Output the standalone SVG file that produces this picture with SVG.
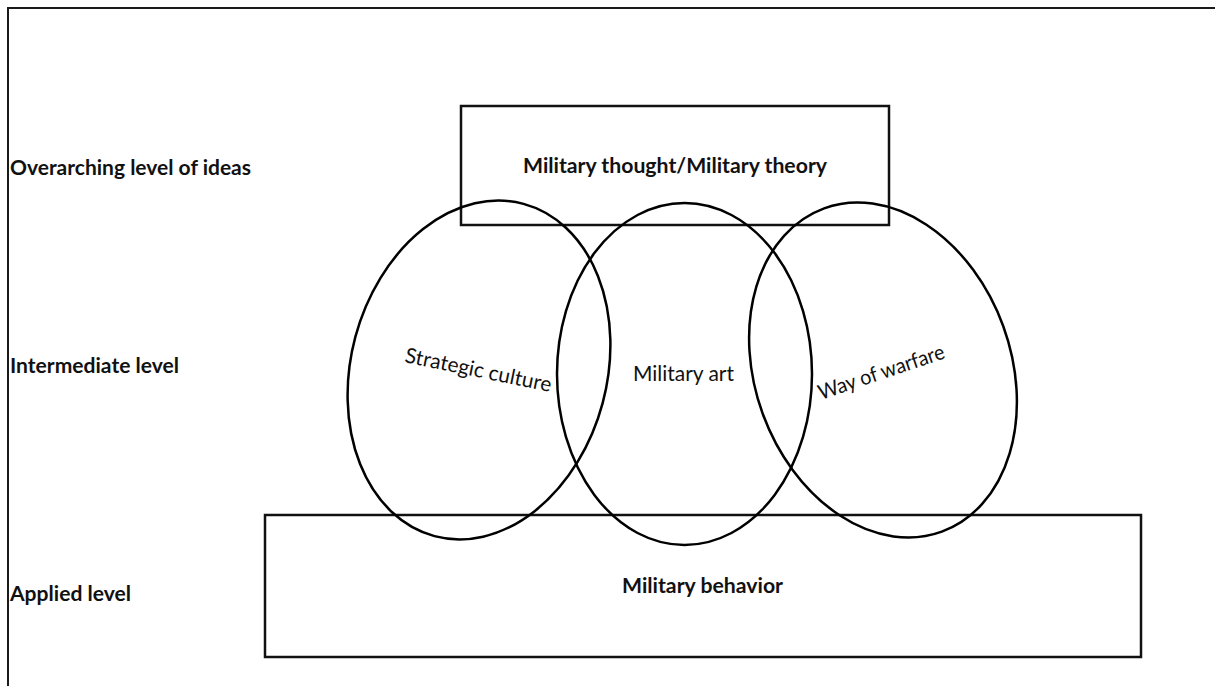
<svg xmlns="http://www.w3.org/2000/svg" width="1215" height="686" viewBox="0 0 1215 686">
<style>
.frame{fill:none;stroke:#1a1a1a;stroke-width:2}
.box{fill:none;stroke:#111;stroke-width:2.5}
.oval{fill:none;stroke:#000;stroke-width:2.5}
.lbl{font-family:Lato,"Open Sans","Liberation Sans",sans-serif;font-size:21px;fill:#111}
.b{font-weight:bold}
</style>
<rect width="1215" height="686" fill="#fff"/>
<g id="frame">
<path class="frame" d="M8,686 V8 H1215"/>
</g>
<g id="level-labels">
<text class="lbl b" x="10" y="175" textLength="241" lengthAdjust="spacingAndGlyphs">Overarching level of ideas</text>
<text class="lbl b" x="10" y="373" textLength="169" lengthAdjust="spacingAndGlyphs">Intermediate level</text>
<text class="lbl b" x="10" y="601" textLength="121" lengthAdjust="spacingAndGlyphs">Applied level</text>
</g>
<g id="military-thought">
<rect class="box" x="461" y="106" width="428" height="119"/>
<text class="lbl b" x="523" y="173" textLength="304" lengthAdjust="spacingAndGlyphs">Military thought/Military theory</text>
</g>
<g id="military-behavior">
<rect class="box" x="265" y="515" width="876" height="142"/>
<text class="lbl b" x="622" y="593" textLength="161" lengthAdjust="spacingAndGlyphs">Military behavior</text>
</g>
<g id="strategic-culture">
<ellipse class="oval" cx="479" cy="370" rx="128" ry="172" transform="rotate(15 479 370)"/>
<text class="lbl" x="404" y="362" textLength="149" lengthAdjust="spacingAndGlyphs" transform="rotate(11.6 404 362)">Strategic culture</text>
</g>
<g id="military-art">
<ellipse class="oval" cx="684.5" cy="374" rx="127.5" ry="171"/>
<text class="lbl" x="633" y="381" textLength="101" lengthAdjust="spacingAndGlyphs">Military art</text>
</g>
<g id="way-of-warfare">
<ellipse class="oval" cx="883" cy="370" rx="128" ry="172" transform="rotate(-20 883 370)"/>
<text class="lbl" x="821" y="400" textLength="132" lengthAdjust="spacingAndGlyphs" transform="rotate(-18.6 821 400)">Way of warfare</text>
</g>
<g id="connectors"></g>
</svg>
